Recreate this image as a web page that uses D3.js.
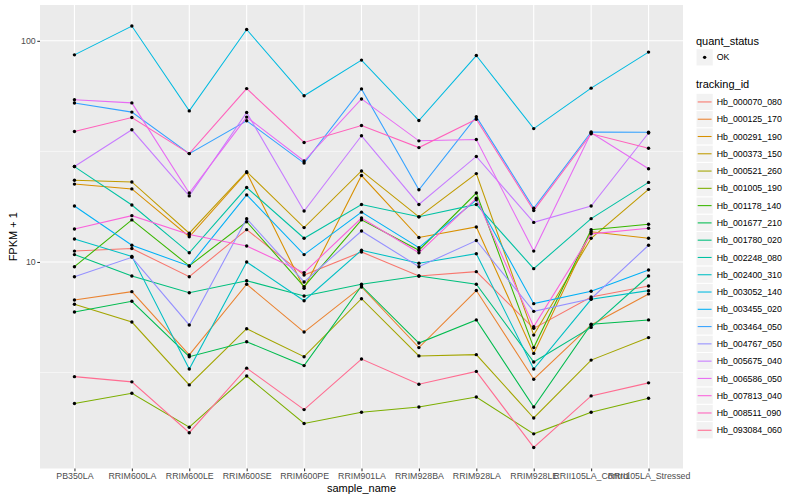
<!DOCTYPE html>
<html>
<head>
<meta charset="utf-8">
<script src="https://cdn.jsdelivr.net/npm/d3@7"></script>
<style>
body { margin: 0; background: #fff; }
text { font-family: "Liberation Sans", Arial, sans-serif; }
</style>
</head>
<body>
<svg id="chart" width="800" height="500"></svg>
<script>
// samples on the x axis
var sampleNames = ['PB350LA', 'RRIM600LA', 'RRIM600LE', 'RRIM600SE', 'RRIM600PE', 'RRIM901LA',
                   'RRIM928BA', 'RRIM928LA', 'RRIM928LE', 'RRII105LA_Control', 'RRII105LA_Stressed'];

var trackingIds = ['Hb_000070_080', 'Hb_000125_170', 'Hb_000291_190', 'Hb_000373_150', 'Hb_000521_260',
                   'Hb_001005_190', 'Hb_001178_140', 'Hb_001677_210', 'Hb_001780_020', 'Hb_002248_080',
                   'Hb_002400_310', 'Hb_003052_140', 'Hb_003455_020', 'Hb_003464_050', 'Hb_004767_050',
                   'Hb_005675_040', 'Hb_006586_050', 'Hb_007813_040', 'Hb_008511_090', 'Hb_093084_060'];

// FPKM + 1, one value per sample
var hb_000070_080 = [11.2, 11.5, 8.58, 14.0, 8.73, 11.1, 8.64, 9.04, 5.01, 6.94, 7.79];
var hb_000125_170 = [6.73, 7.34, 3.80, 7.93, 4.82, 7.71, 4.10, 7.43, 2.95, 5.19, 7.17];
var hb_000291_190 = [22.5, 21.4, 13.0, 25.4, 7.60, 24.6, 12.9, 14.4, 3.86, 13.7, 12.8];
var hb_000373_150 = [23.4, 23.0, 13.5, 25.6, 14.3, 25.8, 16.0, 25.1, 4.67, 12.8, 21.3];
var hb_000521_260 = [6.44, 5.35, 2.78, 4.99, 3.73, 6.82, 3.76, 3.81, 1.97, 3.60, 4.55];
var hb_001005_190 = [2.29, 2.55, 1.79, 3.05, 1.86, 2.09, 2.21, 2.45, 1.67, 2.09, 2.42];
var hb_001178_140 = [9.52, 15.5, 9.60, 15.2, 7.73, 15.5, 11.3, 20.5, 4.10, 14.0, 14.8];
var hb_001677_210 = [5.94, 6.64, 3.73, 4.36, 3.40, 7.79, 4.30, 5.47, 2.21, 5.23, 5.47];
var hb_001780_020 = [10.8, 8.64, 7.26, 8.23, 7.02, 7.93, 8.64, 7.93, 3.53, 5.06, 8.64];
var hb_002248_080 = [27.0, 18.1, 11.0, 21.7, 12.8, 18.2, 16.0, 18.2, 9.33, 15.7, 22.9];
var hb_002400_310 = [12.7, 10.6, 3.28, 10.0, 6.68, 11.3, 9.87, 10.9, 3.28, 6.78, 7.42];
var hb_003052_140 = [86.4, 116.6, 48.2, 112.5, 56.4, 81.8, 43.6, 85.8, 40.1, 61.1, 88.9];
var hb_003455_020 = [17.9, 11.9, 9.59, 20.1, 10.8, 16.8, 11.6, 19.1, 6.48, 7.37, 9.20];
var hb_003464_050 = [52.3, 47.6, 30.9, 43.5, 28.0, 60.6, 21.2, 45.4, 17.5, 38.7, 38.6];
var hb_004767_050 = [8.58, 10.5, 5.19, 15.7, 8.12, 13.8, 9.52, 12.5, 5.98, 6.82, 11.9];
var hb_005675_040 = [27.0, 39.6, 19.9, 47.4, 17.0, 37.2, 18.2, 30.0, 15.1, 17.9, 38.3];
var hb_006586_050 = [54.1, 52.4, 20.5, 45.2, 28.6, 54.6, 35.3, 35.8, 11.2, 38.4, 26.4];
var hb_007813_040 = [14.1, 16.2, 13.3, 11.8, 8.95, 15.8, 11.0, 19.4, 5.10, 13.4, 14.2];
var hb_008511_090 = [38.9, 45.0, 30.9, 60.8, 34.7, 41.4, 32.9, 44.2, 17.1, 38.0, 32.7];
var hb_093084_060 = [3.03, 2.87, 1.69, 3.31, 2.15, 3.64, 2.80, 3.20, 1.45, 2.48, 2.84];

var seriesValues = [hb_000070_080, hb_000125_170, hb_000291_190, hb_000373_150, hb_000521_260,
                    hb_001005_190, hb_001178_140, hb_001677_210, hb_001780_020, hb_002248_080,
                    hb_002400_310, hb_003052_140, hb_003455_020, hb_003464_050, hb_004767_050,
                    hb_005675_040, hb_006586_050, hb_007813_040, hb_008511_090, hb_093084_060];

var yTicks = [10, 100];
var yMinor = [Math.pow(10, 0.5), Math.pow(10, 1.5)];

// ggplot hue palette, 20 levels
var palette = ['#F8766D', '#EA8331', '#D89000', '#C09B00', '#A3A500', '#7CAE00', '#39B600', '#00BB4E',
               '#00BF7D', '#00C1A3', '#00BFC4', '#00BAE0', '#00B0F6', '#35A2FF', '#9590FF', '#C77CFF',
               '#E76BF3', '#FA62DB', '#FF62BC', '#FF6C91'];

var panelL = 40, panelR = 683, panelT = 5, panelB = 468.5;

var svg = d3.select('#chart');

var series = trackingIds.map(function(id, i) {
    return { id: id, colour: palette[i],
             values: seriesValues[i].map(function(v, j) { return { x: sampleNames[j], y: v }; }) };
});

var all = [];
seriesValues.forEach(function(s) { all = all.concat(s); });
var lo = Math.log10(d3.min(all)), hi = Math.log10(d3.max(all));
var pad = (hi - lo) * 0.05;

var x = d3.scalePoint().domain(sampleNames).range([panelL, panelR]).padding(0.6);
var y = d3.scaleLog().domain([Math.pow(10, lo - pad), Math.pow(10, hi + pad)]).range([panelB, panelT]);

// panel
svg.append('rect').attr('x', panelL).attr('y', panelT)
    .attr('width', panelR - panelL).attr('height', panelB - panelT).attr('fill', '#EBEBEB');

svg.selectAll('.minor').data(yMinor).enter().append('line')
    .attr('x1', panelL).attr('x2', panelR)
    .attr('y1', function(d) { return y(d); }).attr('y2', function(d) { return y(d); })
    .attr('stroke', '#fff').attr('stroke-width', 0.55);

svg.selectAll('.major').data(yTicks).enter().append('line')
    .attr('x1', panelL).attr('x2', panelR)
    .attr('y1', function(d) { return y(d); }).attr('y2', function(d) { return y(d); })
    .attr('stroke', '#fff').attr('stroke-width', 1.1);

svg.selectAll('.vgrid').data(sampleNames).enter().append('line')
    .attr('x1', function(d) { return x(d); }).attr('x2', function(d) { return x(d); })
    .attr('y1', panelT).attr('y2', panelB)
    .attr('stroke', '#fff').attr('stroke-width', 1.1);

// lines
var line = d3.line()
    .x(function(d) { return x(d.x); })
    .y(function(d) { return y(d.y); });

svg.selectAll('.series').data(series).enter().append('path')
    .attr('d', function(d) { return line(d.values); })
    .attr('fill', 'none')
    .attr('stroke', function(d) { return d.colour; })
    .attr('stroke-width', 1.07);

// points
series.forEach(function(s) {
    svg.selectAll(null).data(s.values).enter().append('circle')
        .attr('cx', function(d) { return x(d.x); })
        .attr('cy', function(d) { return y(d.y); })
        .attr('r', 1.7)
        .attr('fill', '#000');
});

// axes
var yAxis = svg.append('g').attr('transform', 'translate(' + panelL + ',0)')
    .call(d3.axisLeft(y).tickValues(yTicks).tickFormat(d3.format('d')).tickSize(2.7).tickPadding(1.6));
var xAxis = svg.append('g').attr('transform', 'translate(0,' + panelB + ')')
    .call(d3.axisBottom(x).tickSize(2.7).tickPadding(1.4));

[yAxis, xAxis].forEach(function(a) {
    a.select('.domain').remove();
    a.selectAll('line').attr('stroke', '#333333').attr('stroke-width', 1.07);
    a.selectAll('text').attr('fill', '#4D4D4D').style('font-size', '8.8px')
        .style('font-family', '"Liberation Sans", Arial, sans-serif');
});

svg.append('text').attr('x', (panelL + panelR) / 2).attr('y', 491.5)
    .attr('text-anchor', 'middle').style('font-size', '11px').text('sample_name');

svg.append('text').attr('transform', 'translate(16.5,' + ((panelT + panelB) / 2) + ') rotate(-90)')
    .attr('text-anchor', 'middle').style('font-size', '11px').text('FPKM + 1');

// legend
var lx = 696, key = 17.28;
svg.append('text').attr('x', lx).attr('y', 44.5).style('font-size', '11px').text('quant_status');
svg.append('rect').attr('x', lx).attr('y', 48.7).attr('width', key).attr('height', key)
    .attr('fill', '#F2F2F2').attr('stroke', '#fff');
svg.append('circle').attr('cx', lx + key / 2).attr('cy', 48.7 + key / 2).attr('r', 1.7).attr('fill', '#000');
svg.append('text').attr('x', lx + key + 3.5).attr('y', 48.7 + key / 2 + 3.1)
    .style('font-size', '8.8px').text('OK');

svg.append('text').attr('x', lx).attr('y', 88).style('font-size', '11px').text('tracking_id');

var items = svg.selectAll('.legend-item').data(series).enter().append('g')
    .attr('transform', function(d, i) { return 'translate(' + lx + ',' + (93.3 + i * key) + ')'; });

items.append('rect').attr('width', key).attr('height', key)
    .attr('fill', '#F2F2F2').attr('stroke', '#fff');
items.append('line').attr('x1', 1.7).attr('x2', key - 1.7)
    .attr('y1', key / 2).attr('y2', key / 2)
    .attr('stroke', function(d) { return d.colour; }).attr('stroke-width', 1.07);
items.append('text').attr('x', key + 3.5).attr('y', key / 2 + 3.1)
    .style('font-size', '8.8px').text(function(d) { return d.id; });
</script>
</body>
</html>
